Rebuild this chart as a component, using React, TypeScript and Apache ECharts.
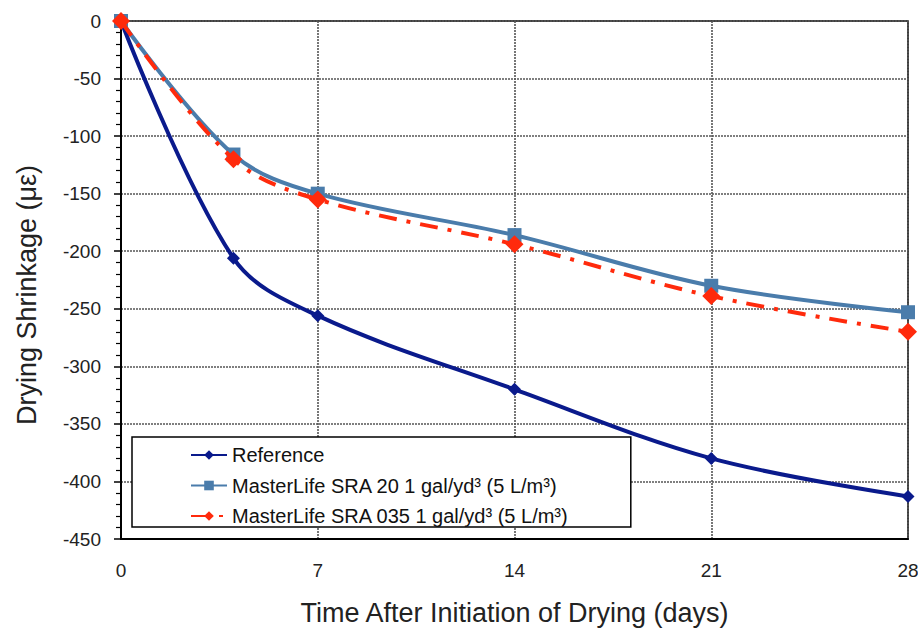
import React, { useEffect, useRef } from "react";
import * as echarts from "echarts";

const days = [0, 4, 7, 14, 21, 28];
const referenceVals = [0, -206, -256, -320, -380, -413];
const sra20Vals = [0, -116, -150, -186, -230, -253];
const sra035Vals = [0, -120, -155, -194, -239, -270];
const seriesNames = [
  "Reference",
  "MasterLife SRA 20 1 gal/yd\u00b3 (5 L/m\u00b3)",
  "MasterLife SRA 035 1 gal/yd\u00b3 (5 L/m\u00b3)",
];
const yTitle = "Drying Shrinkage (\u03bc\u03b5)";
const xTitle = "Time After Initiation of Drying (days)";

const FONT = "Liberation Sans, Arial, sans-serif";

export default function App() {
  const ref = useRef<HTMLDivElement>(null);
  useEffect(() => {
    if (!ref.current) return;
    const chart = echarts.init(ref.current, undefined, { renderer: "svg" });
    const pair = (vals: number[]) => days.map((d, i) => [d, vals[i]]);
    const gridLine = { show: true, lineStyle: { color: "#555", width: 1.6, type: [2, 1] as any } };
    chart.setOption({
      animation: false,
      backgroundColor: "#fff",
      textStyle: { fontFamily: FONT },
      grid: {
        left: 121,
        right: 10,
        top: 21,
        bottom: 89,
        show: true,
        borderColor: "#000",
        borderWidth: 1.5,
        backgroundColor: "transparent",
        containLabel: false,
        outerBoundsMode: "none",
      },
      graphic: [
        {
          type: "text",
          x: 27,
          y: 295,
          rotation: Math.PI / 2,
          style: {
            text: yTitle,
            fontFamily: FONT,
            fontSize: 27,
            fill: "#222",
            align: "center",
            verticalAlign: "middle",
          },
        },
      ],
      legend: {
        orient: "vertical",
        left: 132,
        top: 437,
        backgroundColor: "#fff",
        borderColor: "#000",
        borderWidth: 1.5,
        borderRadius: 0,
        padding: [8, 62, 1, 58],
        itemGap: 10.5,
        itemWidth: 36,
        itemHeight: 12,
        textStyle: { fontFamily: FONT, fontSize: 20, color: "#111" },
        data: seriesNames,
      },
      xAxis: {
        type: "value",
        min: 0,
        max: 28,
        interval: 7,
        name: xTitle,
        nameLocation: "middle",
        nameGap: 60,
        nameTextStyle: { fontFamily: FONT, fontSize: 27, color: "#222" },
        axisLine: { onZero: false, lineStyle: { color: "#000", width: 2 } },
        axisTick: { show: false },
        axisLabel: { fontFamily: FONT, fontSize: 19, color: "#222", margin: 22 },
        splitLine: gridLine,
      },
      yAxis: {
        type: "value",
        min: -450,
        max: 0,
        interval: 50,
        axisLine: { onZero: false, lineStyle: { color: "#000", width: 2 } },
        axisTick: { show: true, length: 7, lineStyle: { color: "#000", width: 1.5 } },
        minorTick: { show: true, splitNumber: 5, length: 5, lineStyle: { color: "#000", width: 1.2 } },
        axisLabel: { fontFamily: FONT, fontSize: 19, color: "#222", margin: 20 },
        splitLine: gridLine,
      },
      series: [
        {
          name: seriesNames[0],
          type: "line",
          data: pair(referenceVals),
          smooth: 0.35,
          symbol: "diamond",
          symbolSize: 13,
          itemStyle: { color: "#0a1a8c" },
          lineStyle: { color: "#0a1a8c", width: 4 },
          z: 3,
        },
        {
          name: seriesNames[1],
          type: "line",
          data: pair(sra20Vals),
          smooth: 0.35,
          symbol: "rect",
          symbolSize: 14,
          itemStyle: { color: "#4a7cab" },
          lineStyle: { color: "#4a7cab", width: 4 },
          z: 2,
        },
        {
          name: seriesNames[2],
          type: "line",
          data: pair(sra035Vals),
          smooth: 0.35,
          symbol: "diamond",
          symbolSize: 18,
          itemStyle: { color: "#ff2a0c" },
          lineStyle: { color: "#ff2a0c", width: 4, type: [18, 10, 4, 10] as any },
          z: 4,
        },
      ],
    });
    return () => chart.dispose();
  }, []);
  return <div ref={ref} style={{ width: 918, height: 628, position: "absolute", left: 0, top: 0 }} />;
}
